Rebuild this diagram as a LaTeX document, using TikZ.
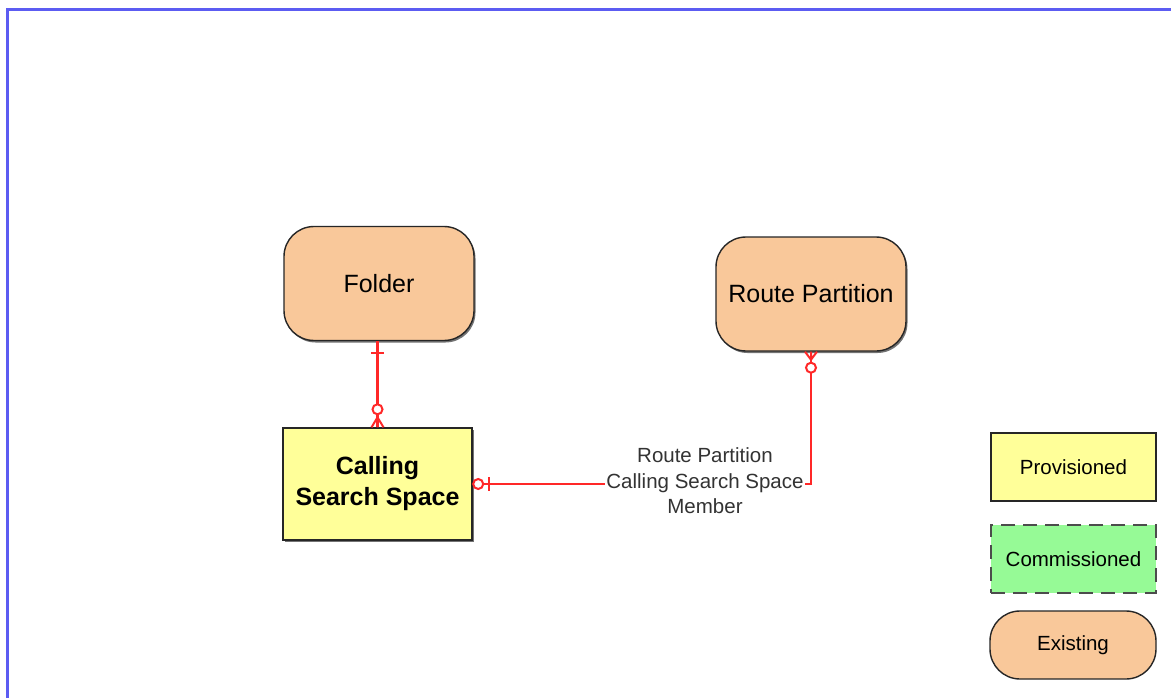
\documentclass[tikz,border=0pt]{standalone}
\usepackage{fontspec}
\setmainfont{Liberation Sans}
\usetikzlibrary{shadows}
\definecolor{orangefill}{HTML}{F9C89A}
\definecolor{yellowfill}{HTML}{FFFF99}
\definecolor{greenfill}{HTML}{96FA96}
\definecolor{relred}{HTML}{FF2828}
\definecolor{frameblue}{HTML}{5C5CF2}
\tikzset{
  shd/.style={drop shadow={shadow xshift=1.5pt,shadow yshift=-2pt,fill=black!55,opacity=1}},
  existing/.style={shd,draw=black!85,line width=1.4pt,fill=orangefill,rounded corners=30pt,
    minimum width=190pt,minimum height=114pt,inner sep=0pt,
    font=\fontsize{25}{30}\selectfont},
  provisioned/.style={shd,draw=black!85,line width=1.4pt,fill=yellowfill,
    minimum width=189pt,minimum height=112pt,inner sep=0pt,align=center,
    font=\fontsize{25}{31}\selectfont\bfseries},
  legprov/.style={draw=black!85,line width=1.4pt,fill=yellowfill,minimum width=165pt,minimum height=68pt,
    inner sep=0pt,font=\fontsize{20.5}{24}\selectfont},
  legcomm/.style={draw=black!70,line width=2.8pt,dash pattern=on 14pt off 8pt,fill=greenfill,minimum width=165pt,minimum height=68pt,
    inner sep=0pt,font=\fontsize{20.5}{24}\selectfont},
  legexist/.style={draw=black!85,line width=1.4pt,fill=orangefill,rounded corners=30pt,minimum width=166pt,minimum height=68pt,
    inner sep=0pt,font=\fontsize{20.5}{24}\selectfont},
  rel/.style={draw=relred,line width=2.4pt},
  relmark/.style={draw=relred,line width=2pt},
  reltext/.style={align=center,text=black!80,font=\fontsize{20.5}{25.5}\selectfont},
  frame/.style={draw=frameblue,line width=3pt}
}
\begin{document}
\begin{tikzpicture}[x=1pt,y=-1pt]
\useasboundingbox (0,0) rectangle (1171,698);
\fill[white] (0,0) rectangle (1171,698);
\draw[frame] (7,700) -- (7,10) -- (1173,10);

\node[existing] (folder) at (379,283.5) {Folder};
\node[existing] (rp) at (811,294) {Route Partition};
\node[provisioned] (css) at (377.5,484) {Calling\\Search Space};

\node[legprov] (lp) at (1073.5,467) {Provisioned};
\node[legcomm] (lc) at (1073.5,559) {Commissioned};
\node[legexist] (le) at (1073,645) {Existing};

% Folder -- CSS
\draw[rel] (folder.south -| css.north) -- (css.north);
\coordinate (f1) at ([yshift=-12pt]folder.south -| css.north);
\draw[relmark] ([xshift=-6.5pt]f1) -- ([xshift=6.5pt]f1);
\draw[relmark,fill=white] ([yshift=18pt]css.north) circle (5pt);
\coordinate (cf1) at ([yshift=10pt]css.north);
\draw[relmark] (cf1) -- ([xshift=-6pt]css.north) (cf1) -- (css.north) (cf1) -- ([xshift=6pt]css.north);

% RP -- CSS
\draw[rel] (rp.south) |- (css.east);
\coordinate (cf2) at ([yshift=-8pt]rp.south);
\draw[relmark] (cf2) -- ([xshift=-6pt]rp.south) (cf2) -- (rp.south) (cf2) -- ([xshift=6pt]rp.south);
\draw[relmark,fill=white] ([yshift=-16pt]rp.south) circle (5pt);
\draw[relmark,fill=white] ([xshift=5.5pt]css.east) circle (5pt);
\draw[relmark] ([xshift=16pt,yshift=7pt]css.east) -- ([xshift=16pt,yshift=-7pt]css.east);

\node[reltext,fill=white,inner sep=1pt] (lbl) at (705,481) {Route Partition\\Calling Search Space\\Member};
\end{tikzpicture}
\end{document}
